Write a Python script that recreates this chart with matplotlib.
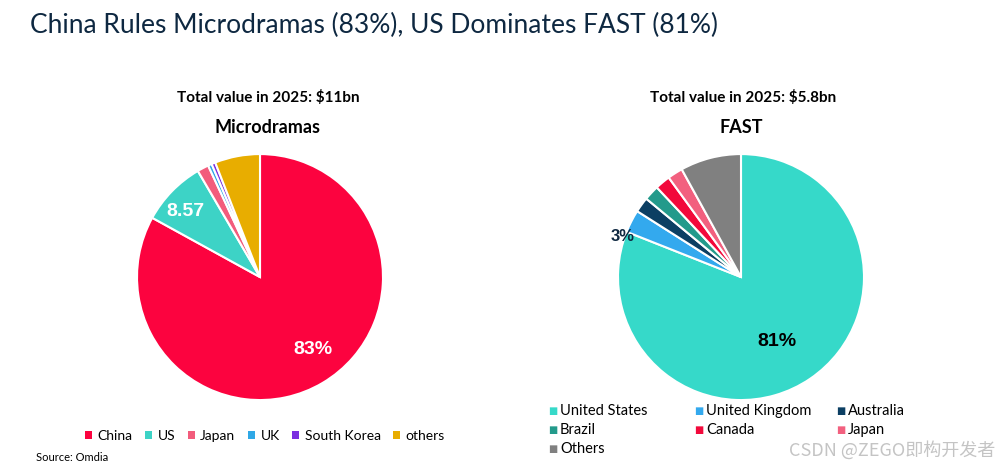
import matplotlib.pyplot as plt
from matplotlib.patches import Patch

# Microdramas market share 2025
micro_labels = ["China", "US", "Japan", "UK", "South Korea", "others"]
micro_values = [83.0, 8.57, 1.5, 0.5, 0.5, 5.93]
micro_colors = ["#fc033f", "#3dd3c6", "#f25c7c", "#2fa8e6", "#7b2fe0", "#e8ad00"]

# FAST market share 2025
fast_labels = ["United States", "United Kingdom", "Australia", "Brazil",
               "Canada", "Japan", "Others"]
fast_values = [81.0, 3.0, 2.0, 2.0, 2.0, 2.0, 8.0]
fast_colors = ["#36d9c9", "#33a9ee", "#0c3f63", "#239a8b", "#f2093b",
               "#f2607f", "#808080"]

plt.rcParams['font.family'] = ['Lato', 'DejaVu Sans']

fig = plt.figure(figsize=(10, 4.69), dpi=100)
fig.patch.set_facecolor("white")

fig.text(0.03, 0.945, "China Rules Microdramas (83%), US Dominates FAST (81%)",
         fontsize=19, color="#0e2841", va="center", ha="left")

ax1 = fig.add_axes([0.137, 0.147, 0.246, 0.5245])
ax2 = fig.add_axes([0.618, 0.147, 0.246, 0.5245])

for ax, vals, cols in [(ax1, micro_values, micro_colors),
                       (ax2, fast_values, fast_colors)]:
    ax.pie(vals, colors=cols, startangle=90, counterclock=False,
           wedgeprops=dict(edgecolor="white", linewidth=1.5))
    ax.set_xlim(-1.0, 1.0)
    ax.set_ylim(-1.0, 1.0)
    ax.set_aspect("equal")
    ax.axis("off")

lbl = dict(fontsize=14, fontweight="bold", ha="center", va="center",
           family="Liberation Sans")
ax1.text(0.43, -0.59, "83%", color="white", **lbl)
ax1.text(-0.61, 0.53, "8.57", color="white", **lbl)
ax2.text(0.29, -0.52, "81%", color="black", **lbl)
ax2.text(-0.96, 0.33, "3%", color="#0e2841", fontsize=12, fontweight="bold",
         ha="center", va="center", family="Liberation Sans")

# headings
fig.text(0.268, 0.793, "Total value in 2025: $11bn", fontsize=11,
         fontweight="bold", ha="center", va="center")
fig.text(0.268, 0.729, "Microdramas", fontsize=13, fontweight="bold",
         ha="center", va="center")
fig.text(0.743, 0.793, "Total value in 2025: $5.8bn", fontsize=11,
         fontweight="bold", ha="center", va="center")
fig.text(0.741, 0.729, "FAST", fontsize=13, fontweight="bold",
         ha="center", va="center")

# legend, microdramas
h1 = [Patch(facecolor=c, label=l) for l, c in zip(micro_labels, micro_colors)]
fig.legend(handles=h1, loc="center", bbox_to_anchor=(0.265, 0.07), ncol=6,
           frameon=False, fontsize=10, handlelength=0.5, handleheight=0.5,
           handletextpad=0.4, columnspacing=0.9)

# legend, FAST (row-major, 3 columns)
col_x = [0.548, 0.694, 0.836]
row_y = [0.124, 0.083, 0.043]
for i, (l, c) in enumerate(zip(fast_labels, fast_colors)):
    x = col_x[i % 3]
    y = row_y[i // 3]
    fig.text(x, y, "■", color=c, fontsize=7, ha="left", va="center",
             family="DejaVu Sans")
    fig.text(x + 0.012, y, l, fontsize=10.5, ha="left", va="center")

fig.text(0.036, 0.013, "Source: Omdia", fontsize=8, ha="left", va="bottom")
fig.text(0.995, 0.04, "CSDN @ZEGO即构开发者", fontsize=13, color="#c4c4c4",
         ha="right", va="center",
         family=["Noto Sans CJK SC", "DejaVu Sans"])

fig.savefig("out.png", dpi=100, facecolor="white")
